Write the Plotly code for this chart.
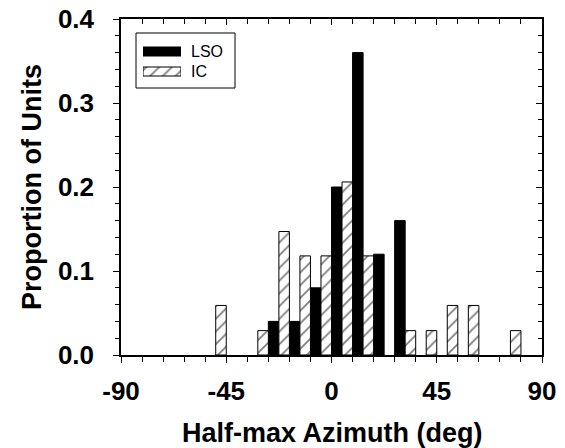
import plotly.graph_objects as go

# Bin centres (deg), bins 9 deg wide
lso_bins = [-22.5, -13.5, -4.5, 4.5, 13.5, 22.5, 31.5]
lso_prop = [0.04, 0.04, 0.08, 0.20, 0.36, 0.12, 0.16]

ic_bins = [-49.5, -31.5, -22.5, -13.5, -4.5, 4.5, 13.5, 31.5, 40.5, 49.5, 58.5, 76.5]
ic_prop = [0.059, 0.029, 0.147, 0.118, 0.118, 0.206, 0.118, 0.029, 0.029, 0.059, 0.059, 0.029]

x_tickvals = [-90, -45, 0, 45, 90]
x_ticktext = ["-90", "-45", "0", "45", "90"]
y_tickvals = [0.0, 0.1, 0.2, 0.3, 0.4]
y_ticktext = ["0.0", "0.1", "0.2", "0.3", "0.4"]

legend_names = ["LSO", "IC"]

W, H = 565, 448
L, T = 121, 19
R, B = 565 - 542, 448 - 355
PW, PH = W - L - R, H - T - B


def px(xscreen):
    return (xscreen - L) / PW


def py(yscreen):
    return 1 - (yscreen - T) / PH


FONT = "Liberation Sans, Arial, sans-serif"
HATCH = dict(shape="/", fgcolor="black", bgcolor="white", size=9, solidity=0.2)

fig = go.Figure()

fig.add_trace(go.Bar(
    x=lso_bins, y=lso_prop, name="LSO", width=4.5, offset=-4.5,
    marker=dict(color="black", line=dict(color="black", width=1)),
    showlegend=False,
))
fig.add_trace(go.Bar(
    x=ic_bins, y=ic_prop, name="IC", width=4.5, offset=0,
    marker=dict(color="white", line=dict(color="black", width=1), pattern=HATCH),
    showlegend=False,
))

# mirrored axes (inside ticks on top / right)
fig.add_trace(go.Scatter(x=[None], y=[None], xaxis="x2", yaxis="y2",
                         showlegend=False, hoverinfo="skip"))

# custom legend swatches drawn as bars on a small hidden axis
fig.add_trace(go.Bar(
    y=[1], x=[1], orientation="h", width=0.45, xaxis="x3", yaxis="y3",
    marker=dict(color="black", line=dict(color="black", width=1)),
    showlegend=False, hoverinfo="skip",
))
fig.add_trace(go.Bar(
    y=[0], x=[1], orientation="h", width=0.45, xaxis="x3", yaxis="y3",
    marker=dict(color="white", line=dict(color="black", width=1), pattern=HATCH),
    showlegend=False, hoverinfo="skip",
))

tickfont = dict(family=FONT, size=26, color="black", weight="bold")

fig.update_layout(
    width=W, height=H,
    margin=dict(l=L, r=R, t=T, b=B, pad=0),
    paper_bgcolor="white", plot_bgcolor="white",
    barmode="overlay",
    xaxis=dict(range=[-90, 90], tickvals=x_tickvals, ticktext=x_ticktext,
               ticks="outside", ticklen=6, tickwidth=1.3, tickcolor="black",
               minor=dict(dtick=9, tick0=0, ticks="outside", ticklen=5,
                          tickwidth=1.3, tickcolor="black"),
               showline=True, linecolor="black", linewidth=1.5, automargin=False,
               ticklabeloverflow="allow",
               showgrid=False, zeroline=False, tickfont=tickfont, ticklabelstandoff=6),
    yaxis=dict(range=[0, 0.4], tickvals=y_tickvals, ticktext=y_ticktext,
               ticks="outside", ticklen=6, tickwidth=1.3, tickcolor="black",
               minor=dict(dtick=0.02, tick0=0, ticks="outside", ticklen=4,
                          tickwidth=1.3, tickcolor="black"),
               showline=True, linecolor="black", linewidth=1.5, automargin=False,
               ticklabeloverflow="allow",
               showgrid=False, zeroline=False, tickfont=tickfont, ticklabelstandoff=14),
    xaxis2=dict(range=[-90, 90], overlaying="x", side="top", anchor="y",
                tickvals=x_tickvals, ticks="inside", ticklen=6, tickwidth=1.3,
                tickcolor="black", showticklabels=False, automargin=False,
                minor=dict(dtick=9, tick0=0, ticks="inside", ticklen=5,
                           tickwidth=1.3, tickcolor="black"),
                showline=True, linecolor="black", linewidth=1.5,
                showgrid=False, zeroline=False),
    yaxis2=dict(range=[0, 0.4], overlaying="y", side="right", anchor="x",
                tickvals=y_tickvals, ticks="inside", ticklen=6, tickwidth=1.3,
                tickcolor="black", showticklabels=False, automargin=False,
                minor=dict(dtick=0.02, tick0=0, ticks="inside", ticklen=4,
                           tickwidth=1.3, tickcolor="black"),
                showline=True, linecolor="black", linewidth=1.5,
                showgrid=False, zeroline=False),
    xaxis3=dict(domain=[px(143), px(181)], range=[0, 1], visible=False,
                anchor="y3", fixedrange=True),
    yaxis3=dict(domain=[py(78), py(45)], range=[-0.325, 1.325],
                visible=False, anchor="x3", fixedrange=True),
    showlegend=False,
)

# legend frame
fig.add_shape(type="rect", xref="paper", yref="paper",
              x0=px(136), x1=px(235), y0=py(88), y1=py(33),
              line=dict(color="black", width=1), fillcolor="rgba(0,0,0,0)")
for name, ypix in zip(legend_names, [51.5, 71.5]):
    fig.add_annotation(text=name, xref="paper", yref="paper",
                       x=px(189), y=py(ypix), xanchor="left", yanchor="middle",
                       showarrow=False,
                       font=dict(family=FONT, size=16, color="black"))

# axis titles
fig.add_annotation(text="Half-max Azimuth (deg)", xref="paper", yref="paper",
                   x=px(332), y=py(433), xanchor="center", yanchor="middle",
                   showarrow=False,
                   font=dict(family=FONT, size=27, color="black", weight="bold"))
fig.add_annotation(text="Proportion of Units", xref="paper", yref="paper",
                   x=px(32), y=py(187), xanchor="center", yanchor="middle",
                   textangle=-90, showarrow=False,
                   font=dict(family=FONT, size=27, color="black", weight="bold"))

fig.write_html(
    "out.html",
    config={"displayModeBar": False},
    post_script="document.body.style.margin='0';"
                "document.documentElement.style.overflow='hidden';",
)
